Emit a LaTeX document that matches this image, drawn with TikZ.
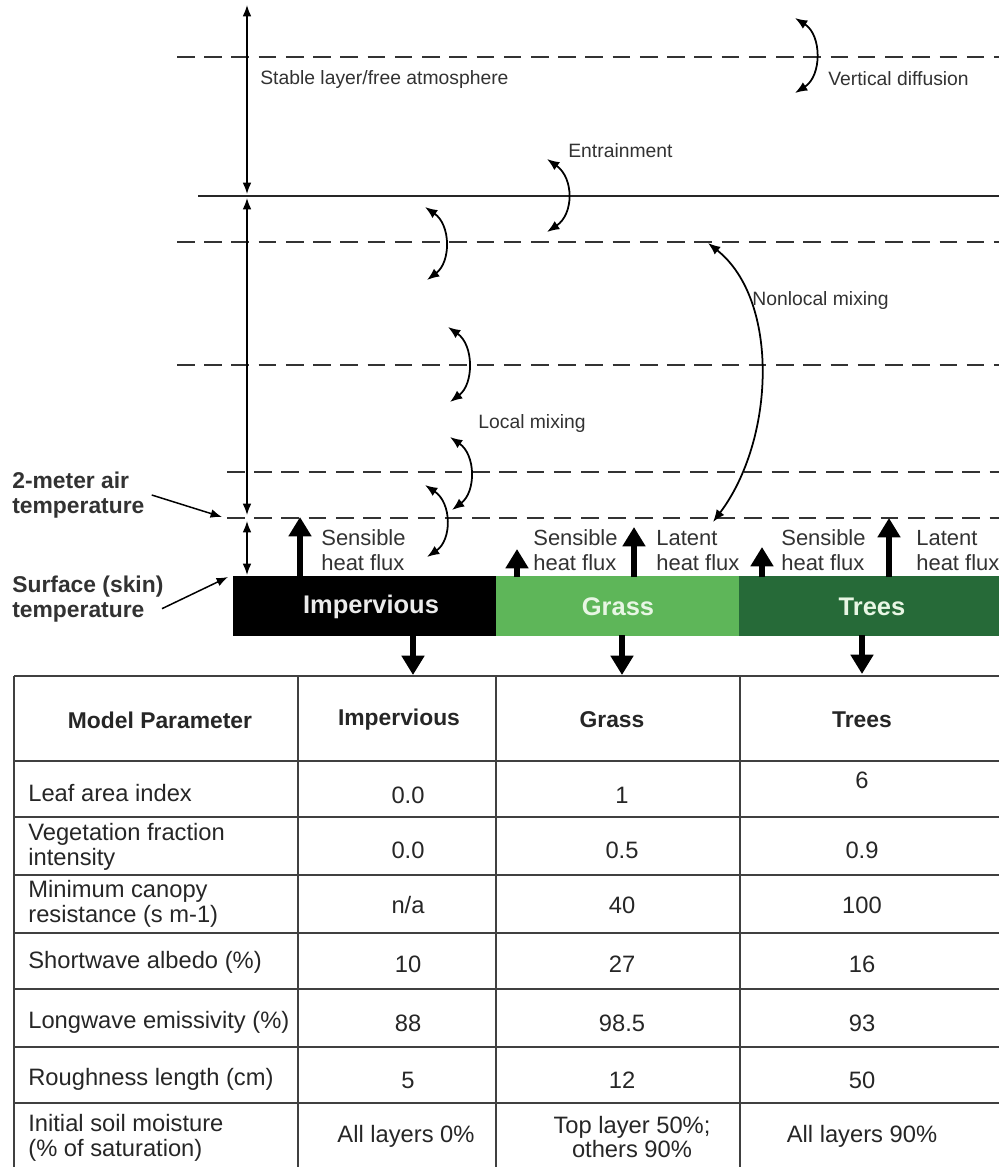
\documentclass[tikz,border=0pt]{standalone}
\usepackage{fontspec}
\setmainfont{Liberation Sans}
\usetikzlibrary{arrows.meta}
\definecolor{grassgreen}{RGB}{94,182,89}
\definecolor{treegreen}{RGB}{38,106,56}
\definecolor{labelgray}{RGB}{50,50,50}
\definecolor{palegreen}{RGB}{232,246,228}

\begin{document}
\begin{tikzpicture}[x=0.02cm,y=-0.02cm,
    layer/.style={dash pattern=on 10pt off 5.5pt, line width=1.1pt, draw=black!80},
    mix/.style={{Latex[length=7pt,width=5.5pt]}-{Latex[length=7pt,width=5.5pt]}, line width=1pt},
    axis/.style={{Latex[length=6.5pt,width=5pt]}-{Latex[length=6.5pt,width=5pt]}, line width=0.85pt},
    pointer/.style={-{Latex[length=6.5pt,width=5pt]}, line width=0.85pt},
    flux/.style={-{Triangle[length=11pt,width=12.5pt]}, line width=3.4pt},
    lbl/.style={font=\fontsize{11}{13}\selectfont, text=labelgray, inner sep=0pt, anchor=west},
    fluxlbl/.style={font=\fontsize{12.5}{14.2}\selectfont, text=labelgray, align=left, inner sep=0pt, anchor=west},
    sidelbl/.style={font=\bfseries\fontsize{13}{14.2}\selectfont, text=labelgray, align=left, inner sep=0pt, anchor=west},
    surf/.style={font=\bfseries\fontsize{14.5}{16}\selectfont, inner sep=0pt},
    cell/.style={font=\fontsize{13.5}{14}\selectfont, text=black!85, inner sep=0pt, align=center},
    head/.style={cell, font=\bfseries\fontsize{13}{14}\selectfont},
    par/.style={cell, align=left, anchor=west},
    grid/.style={line width=1.2pt, draw=black!75}]
    \useasboundingbox (0,0) rectangle (999,1167);
    \clip (0,0) rectangle (999,1167);

    \draw[layer] (177,57) -- (1000,57);
    \draw[line width=1.1pt, black!85] (198,196) -- (1000,196);
    \draw[layer] (177,242) -- (1000,242);
    \draw[layer] (177,365) -- (1000,365);
    \draw[layer] (227,472) -- (1000,472);
    \draw[layer] (227,518) -- (1000,518);

    \draw[axis] (247,5) -- (247,194);
    \draw[axis] (247,198) -- (247,515);
    \draw[axis] (247,521) -- (247,575);

    \node[lbl] (stable) at (260,79) {Stable layer/free atmosphere};
    \node[lbl] (vdiff) at (828,79) {Vertical diffusion};
    \node[lbl] (entrain) at (568,151) {Entrainment};
    \node[lbl] (nonlocal) at (752,300) {Nonlocal mixing};
    \node[lbl] (local) at (478,423) {Local mixing};

    \draw[mix] (795,18) .. controls (822,35) and (822,76) .. (795,93);
    \draw[mix] (547,159) .. controls (574,178) and (574,214) .. (547,232);
    \draw[mix] (425,207) .. controls (451,225) and (451,262) .. (427,280);
    \draw[mix] (448,327) .. controls (474,345) and (474,384) .. (450,402);
    \draw[mix] (450,437) .. controls (476,455) and (476,492) .. (452,510);
    \draw[mix] (425,485) .. controls (452,503) and (452,540) .. (427,557);
    \draw[mix] (713,522) .. controls (775,440) and (780,300) .. (708,243);

    \fill[black] (233,576) rectangle (496,636);
    \fill[grassgreen] (496,576) rectangle (739,636);
    \fill[treegreen] (739,576) rectangle (1000,636);
    \node[surf, text=white!92!black] (imp) at (371,607) {Impervious};
    \node[surf, text=palegreen] (grass) at (618,607) {Grass};
    \node[surf, text=palegreen] (trees) at (872,607) {Trees};

    \draw[flux] (300,577) -- (300,517);
    \draw[flux] (517,577) -- (517,549);
    \draw[flux] (634,577) -- (634,527);
    \draw[flux] (762,577) -- (762,547);
    \draw[flux] (889,577) -- (889,518);
    \node[fluxlbl] (impsens) at (321,550) {Sensible\\heat flux};
    \node[fluxlbl] (grasssens) at (533,550) {Sensible\\heat flux};
    \node[fluxlbl] (grasslat) at (656,551) {Latent\\heat flux};
    \node[fluxlbl] (treesens) at (781,550) {Sensible\\heat flux};
    \node[fluxlbl] (treelat) at (916,551) {Latent\\heat flux};

    \draw[flux] (413,635) -- (413,675);
    \draw[flux] (622,635) -- (622,675);
    \draw[flux] (862,635) -- (862,674);

    \node[sidelbl] (airtemp) at (12,495) {2-meter air\\temperature};
    \node[sidelbl] (skintemp) at (12,599) {Surface (skin)\\temperature};
    \coordinate (airpt) at (222,517);
    \coordinate (skinpt) at (228,577);
    \draw[pointer] ([xshift=4pt]airtemp.east) -- (airpt);
    \draw[pointer] ([shift={(-1pt,-5.5pt)}]skintemp.east) -- (skinpt);

    \foreach \y in {676,761,817,875,933,989,1047,1103}
        \draw[grid] (14,\y) -- (1000,\y);
    \foreach \x in {14,298,496,740}
        \draw[grid] (\x,676) -- (\x,1170);

    \node[head] (hpar) at (160,720) {Model Parameter};
    \node[head] (himp) at (399,720) {Impervious};
    \node[head] (hgrass) at (612,720) {Grass};
    \node[head] (htrees) at (862,720) {Trees};

    \node[par] (p1) at (28,793) {Leaf area index};
    \node[cell] (a1) at (408,795) {0.0};
    \node[cell] (b1) at (622,795) {1};
    \node[cell] (c1) at (862,780) {6};

    \node[par] (p2) at (28,847) {Vegetation fraction\\intensity};
    \node[cell] (a2) at (408,850) {0.0};
    \node[cell] (b2) at (622,850) {0.5};
    \node[cell] (c2) at (862,850) {0.9};

    \node[par] (p3) at (28,904) {Minimum canopy\\resistance (s m-1)};
    \node[cell] (a3) at (408,905) {n/a};
    \node[cell] (b3) at (622,905) {40};
    \node[cell] (c3) at (862,905) {100};

    \node[par] (p4) at (28,962) {Shortwave albedo (\%)};
    \node[cell] (a4) at (408,964) {10};
    \node[cell] (b4) at (622,964) {27};
    \node[cell] (c4) at (862,964) {16};

    \node[par] (p5) at (28,1022) {Longwave emissivity (\%)};
    \node[cell] (a5) at (408,1023) {88};
    \node[cell] (b5) at (622,1023) {98.5};
    \node[cell] (c5) at (862,1023) {93};

    \node[par] (p6) at (28,1079) {Roughness length (cm)};
    \node[cell] (a6) at (408,1080) {5};
    \node[cell] (b6) at (622,1080) {12};
    \node[cell] (c6) at (862,1080) {50};

    \node[par] (p7) at (28,1138) {Initial soil moisture\\(\% of saturation)};
    \node[cell] (a7) at (406,1136) {All layers 0\%};
    \node[cell] (b7) at (632,1137) {Top layer 50\%;\\others 90\%};
    \node[cell] (c7) at (862,1136) {All layers 90\%};
\end{tikzpicture}
\end{document}
